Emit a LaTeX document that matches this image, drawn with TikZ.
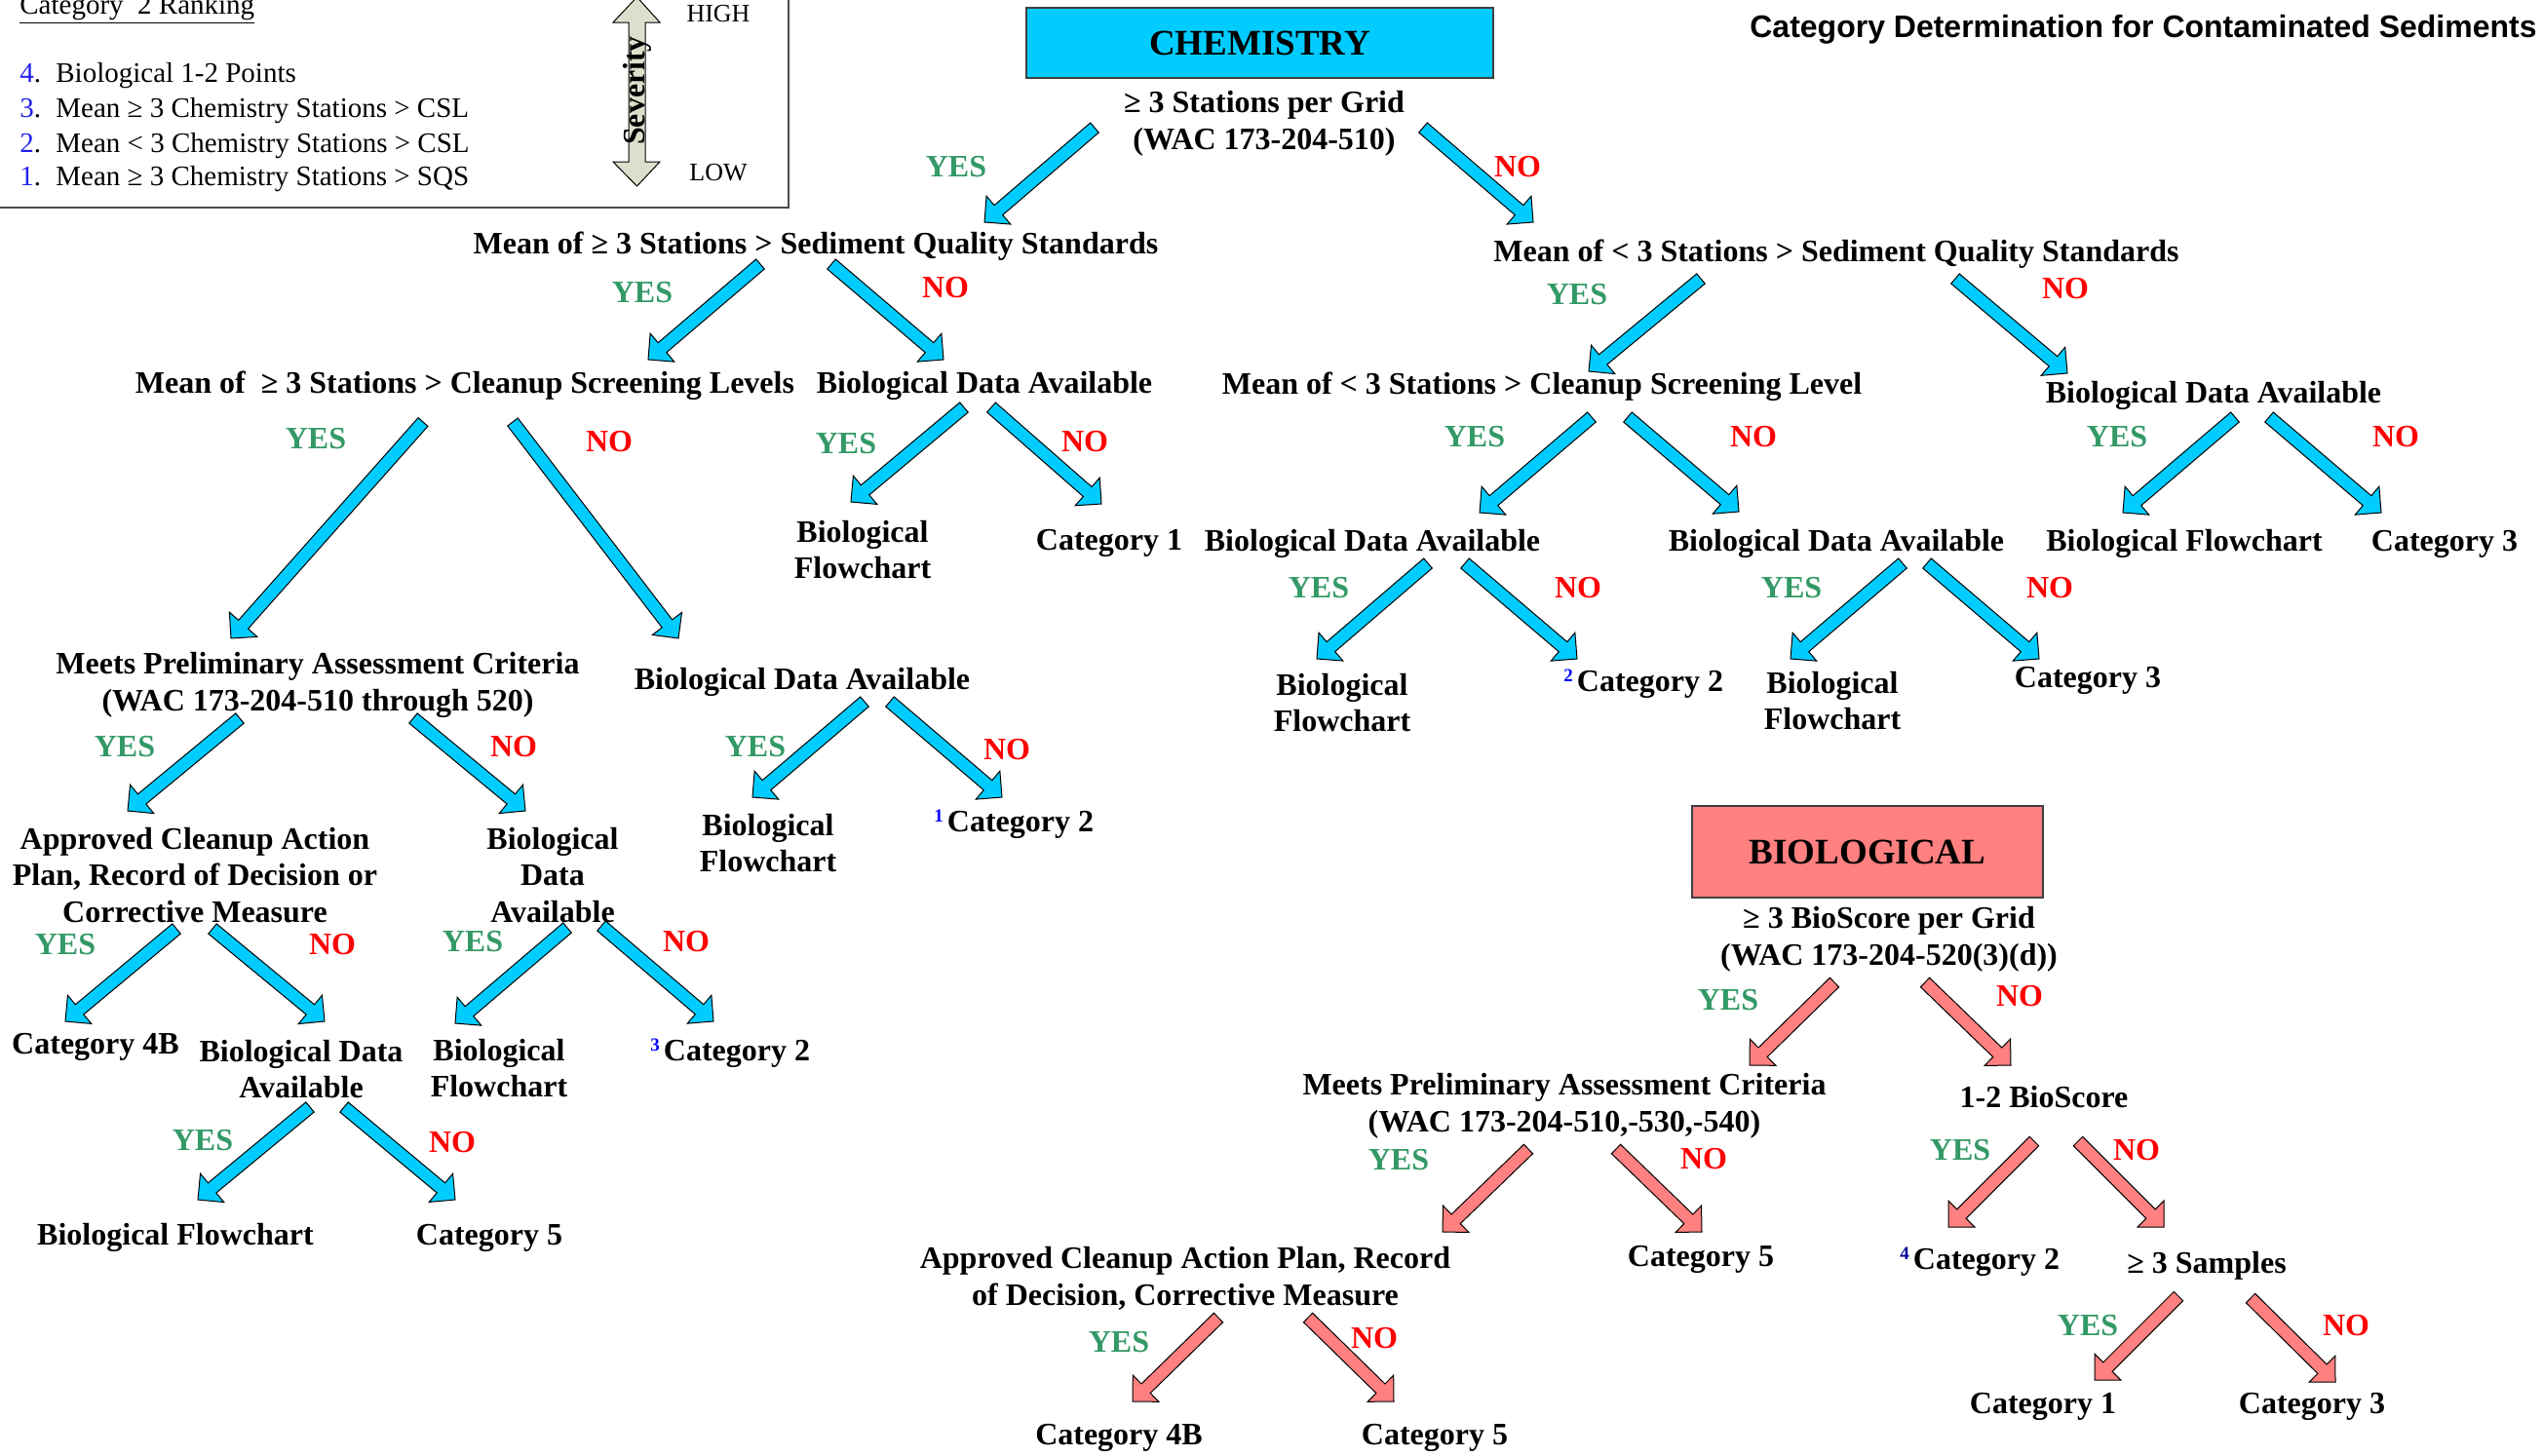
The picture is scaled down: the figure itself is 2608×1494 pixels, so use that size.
\documentclass[tikz,border=0pt]{standalone}
\usepackage{fontspec}
\setmainfont{Liberation Serif}
\newfontfamily\titlefont{Liberation Sans}
\usetikzlibrary{calc}
\definecolor{chemcyan}{HTML}{00CCFF}
\definecolor{biored}{HTML}{FF8080}
\definecolor{yesgreen}{HTML}{339966}
\definecolor{nored}{HTML}{FF0000}
\definecolor{supblue}{HTML}{0000FF}
\definecolor{supnavy}{HTML}{000099}
\definecolor{legblue}{HTML}{2222EE}
\definecolor{sevfill}{HTML}{DDDFCC}
\newcommand\supnum[2][supblue]{\textcolor{#1}{\raisebox{5pt}{\fontsize{9.5}{10}\selectfont #2}}\hspace{2pt}}
\newcommand\blockarrow[4]{%
  \coordinate (#1-t) at #2;
  \coordinate (#1-h) at #3;
  \coordinate (#1-b) at ($(#1-h)!9.5pt!(#1-t)$);
  \draw[arrowline, fill=#4]
    ($(#1-t)!3.3pt!90:(#1-h)$) -- ($(#1-b)!3.3pt!90:(#1-h)$) -- ($(#1-b)!9.5pt!90:(#1-h)$)
    -- (#1-h) -- ($(#1-b)!9.5pt!-90:(#1-h)$) -- ($(#1-b)!3.3pt!-90:(#1-h)$)
    -- ($(#1-t)!3.3pt!-90:(#1-h)$) -- cycle;
}
\tikzset{
  txt/.style={font=\fontsize{16}{18.75}\selectfont\bfseries, align=center, inner sep=0pt, yshift=-1.5pt},
  yes/.style={font=\fontsize{16}{18.75}\selectfont\bfseries, text=yesgreen, inner sep=0pt, yshift=-0.75pt},
  no/.style={font=\fontsize{16}{18.75}\selectfont\bfseries, text=nored, inner sep=0pt, yshift=-0.75pt},
  leg/.style={font=\fontsize{14.5}{17}\selectfont, inner sep=0pt},
  legsmall/.style={font=\fontsize{13}{15}\selectfont, inner sep=0pt},
  arrowline/.style={draw=black, line width=0.5pt, line join=miter},
  chembox/.style={draw=black!75, line width=0.75pt, fill=chemcyan, minimum width=239.5pt, minimum height=36pt, inner sep=0pt, font=\fontsize{18.5}{22}\selectfont\bfseries},
  biobox/.style={draw=black!75, line width=0.75pt, fill=biored, minimum width=180pt, minimum height=47pt, inner sep=0pt, font=\fontsize{18.5}{22}\selectfont\bfseries},
}
\begin{document}
\begin{tikzpicture}[x=0.5pt, y=-0.5pt]
\useasboundingbox (0,0) rectangle (2608,1494);
\fill[white] (0,0) rectangle (2608,1494);

% ---------- legend ----------
\draw[black!70, line width=1pt] (-10,-10) rectangle (809,213);
\node[leg, anchor=base west] (lhead) at (20,14) {\underline{Category\ \ 2 Ranking}};
\node[leg, anchor=west] (li4) at (20,78) {\makebox[18.5pt][l]{\textcolor{legblue}{4}.}Biological 1-2 Points};
\node[leg, anchor=west] (li3) at (20,114) {\makebox[18.5pt][l]{\textcolor{legblue}{3}.}Mean ≥ 3 Chemistry Stations > CSL};
\node[leg, anchor=west] (li2) at (20,150) {\makebox[18.5pt][l]{\textcolor{legblue}{2}.}Mean < 3 Chemistry Stations > CSL};
\node[leg, anchor=west] (li1) at (20,184) {\makebox[18.5pt][l]{\textcolor{legblue}{1}.}Mean ≥ 3 Chemistry Stations > SQS};
\draw[arrowline, fill=sevfill] (653.5,-3) -- (677,23) -- (662,23) -- (662,166) -- (677,166) -- (653.5,191)
  -- (629,166) -- (645,166) -- (645,23) -- (629,23) -- cycle;
\node[rotate=90, font=\fontsize{16}{19}\selectfont\bfseries, inner sep=0pt] (sev) at (653.5,93) {Severity};
\node[legsmall] (high) at (737,14) {HIGH};
\node[legsmall] (low) at (737,177) {LOW};

% ---------- title ----------
\node[font=\titlefont\fontsize{16}{19}\selectfont\bfseries, anchor=east, inner sep=0pt] (title) at (2603,30) {Category Determination for Contaminated Sediments};

% ---------- chemistry ----------
\node[chembox] (chem) at (1292.5,44) {CHEMISTRY};
\node[txt] (q0) at (1297,124) {≥ 3 Stations per Grid\\(WAC 173-204-510)};
\blockarrow{a0y}{(1123,131)}{(1010,228)}{chemcyan}
\node[yes] (y0) at (981,170) {YES};
\blockarrow{a0n}{(1460,131)}{(1573,228)}{chemcyan}
\node[no] (n0) at (1557,170) {NO};

% left branch
\node[txt] (l1) at (837,250) {Mean of ≥ 3 Stations > Sediment Quality Standards};
\blockarrow{a1y}{(780,271)}{(665,369)}{chemcyan}
\node[yes] (y1) at (659,299) {YES};
\blockarrow{a1n}{(853,271)}{(968,369)}{chemcyan}
\node[no] (n1) at (970,294) {NO};

\node[txt] (l2a) at (477,393) {Mean of\ \ ≥ 3 Stations > Cleanup Screening Levels};
\node[txt] (l2b) at (1010,393) {Biological Data Available};
\blockarrow{a2ay}{(434,433)}{(237,655)}{chemcyan}
\node[yes] (y2a) at (324,449) {YES};
\blockarrow{a2an}{(526,433)}{(696,655)}{chemcyan}
\node[no] (n2a) at (625,452) {NO};
\blockarrow{a2by}{(989,418)}{(873,515)}{chemcyan}
\node[yes] (y2b) at (868,454) {YES};
\blockarrow{a2bn}{(1017,418)}{(1130,517)}{chemcyan}
\node[no] (n2b) at (1113,452) {NO};
\node[txt] (l2b1) at (885,561) {Biological\\Flowchart};
\node[txt] (l2b2) at (1138,554) {Category 1};

\node[txt] (l3a) at (326,700) {Meets Preliminary Assessment Criteria\\(WAC 173-204-510 through 520)};
\node[txt] (l3b) at (823,697) {Biological Data Available};
\blockarrow{a3ay}{(246,737)}{(131,832)}{chemcyan}
\node[yes] (y3a) at (128,765) {YES};
\blockarrow{a3an}{(424,737)}{(539,832)}{chemcyan}
\node[no] (n3a) at (527,765) {NO};
\blockarrow{a3by}{(887,720)}{(772,818)}{chemcyan}
\node[yes] (y3b) at (775,765) {YES};
\blockarrow{a3bn}{(913,720)}{(1028,818)}{chemcyan}
\node[no] (n3b) at (1033,768) {NO};
\node[txt] (l3b1) at (788,862) {Biological\\Flowchart};
\node[txt, anchor=west] (l3b2) at (958,843) {\supnum{1}Category 2};

\node[txt] (l4a) at (200,895) {Approved Cleanup Action\\Plan, Record of Decision or\\Corrective Measure};
\node[txt] (l4b) at (567,895) {Biological\\Data\\Available};
\blockarrow{a4ay}{(181,953)}{(67,1048)}{chemcyan}
\node[yes] (y4a) at (67,968) {YES};
\blockarrow{a4an}{(218,953)}{(333,1048)}{chemcyan}
\node[no] (n4a) at (341,968) {NO};
\blockarrow{a4by}{(582,952)}{(467,1050)}{chemcyan}
\node[yes] (y4b) at (485,965) {YES};
\blockarrow{a4bn}{(617,950)}{(732,1048)}{chemcyan}
\node[no] (n4b) at (704,965) {NO};
\node[txt] (l4a1) at (98,1071) {Category 4B};
\node[txt] (l4a2) at (309,1094) {Biological Data\\Available};
\node[txt] (l4b1) at (512,1093) {Biological\\Flowchart};
\node[txt, anchor=west] (l4b2) at (667,1078) {\supnum{3}Category 2};

\blockarrow{a5y}{(318,1136)}{(203,1231)}{chemcyan}
\node[yes] (y5) at (208,1169) {YES};
\blockarrow{a5n}{(353,1136)}{(467,1231)}{chemcyan}
\node[no] (n5) at (464,1171) {NO};
\node[txt] (l5a) at (180,1267) {Biological Flowchart};
\node[txt] (l5b) at (502,1267) {Category 5};

% right branch
\node[txt] (r1) at (1884,258) {Mean of < 3 Stations > Sediment Quality Standards};
\blockarrow{r1y}{(1745,286)}{(1630,381)}{chemcyan}
\node[yes] (yr1) at (1618,301) {YES};
\blockarrow{r1n}{(2006,286)}{(2121,383)}{chemcyan}
\node[no] (nr1) at (2119,295) {NO};

\node[txt] (r2a) at (1582,394) {Mean of < 3 Stations > Cleanup Screening Level};
\node[txt] (r2b) at (2271,403) {Biological Data Available};
\blockarrow{r2ay}{(1633,428)}{(1518,526)}{chemcyan}
\node[yes] (yr2a) at (1513,447) {YES};
\blockarrow{r2an}{(1670,428)}{(1784,525)}{chemcyan}
\node[no] (nr2a) at (1799,447) {NO};
\blockarrow{r2by}{(2293,428)}{(2178,526)}{chemcyan}
\node[yes] (yr2b) at (2172,447) {YES};
\blockarrow{r2bn}{(2328,428)}{(2443,526)}{chemcyan}
\node[no] (nr2b) at (2458,447) {NO};
\node[txt] (r2b1) at (2241,555) {Biological Flowchart};
\node[txt] (r2b2) at (2508,555) {Category 3};

\node[txt] (r3a) at (1408,555) {Biological Data Available};
\node[txt] (r3b) at (1884,555) {Biological Data Available};
\blockarrow{r3ay}{(1465,578)}{(1351,676)}{chemcyan}
\node[yes] (yr3a) at (1353,602) {YES};
\blockarrow{r3an}{(1503,578)}{(1618,676)}{chemcyan}
\node[no] (nr3a) at (1619,602) {NO};
\blockarrow{r3by}{(1952,578)}{(1837,676)}{chemcyan}
\node[yes] (yr3b) at (1838,602) {YES};
\blockarrow{r3bn}{(1977,578)}{(2092,676)}{chemcyan}
\node[no] (nr3b) at (2103,602) {NO};
\node[txt] (r3a1) at (1377,718) {Biological\\Flowchart};
\node[txt, anchor=west] (r3a2) at (1604,699) {\supnum{2}Category 2};
\node[txt] (r3b1) at (1880,716) {Biological\\Flowchart};
\node[txt] (r3b2) at (2142,695) {Category 3};

% ---------- biological ----------
\node[biobox] (bio) at (1916,874) {BIOLOGICAL};
\node[txt] (b0) at (1938,961) {≥ 3 BioScore per Grid\\(WAC 173-204-520(3)(d))};
\blockarrow{b0y}{(1882,1008)}{(1795,1093)}{biored}
\node[yes] (yb0) at (1773,1025) {YES};
\blockarrow{b0n}{(1975,1008)}{(2063,1093)}{biored}
\node[no] (nb0) at (2072,1021) {NO};

\node[txt] (b1a) at (1605,1132) {Meets Preliminary Assessment Criteria\\(WAC 173-204-510,-530,-540)};
\node[txt] (b1b) at (2097,1123) {1-2 BioScore};
\blockarrow{b1ay}{(1568,1179)}{(1480,1264)}{biored}
\node[yes] (yb1a) at (1435,1189) {YES};
\blockarrow{b1an}{(1658,1179)}{(1746,1264)}{biored}
\node[no] (nb1a) at (1748,1188) {NO};
\blockarrow{b1by}{(2087,1171)}{(1999,1259)}{biored}
\node[yes] (yb1b) at (2011,1179) {YES};
\blockarrow{b1bn}{(2132,1171)}{(2220,1259)}{biored}
\node[no] (nb1b) at (2192,1179) {NO};

\node[txt] (b2a) at (1216,1309) {Approved Cleanup Action Plan, Record\\of Decision, Corrective Measure};
\node[txt] (b2b) at (1745,1289) {Category 5};
\node[txt, anchor=west] (b2c) at (1949,1292) {\supnum[supnavy]{4}Category 2};
\node[txt] (b2d) at (2264,1296) {≥ 3 Samples};
\blockarrow{b2ay}{(1250,1352)}{(1162,1438)}{biored}
\node[yes] (yb2a) at (1148,1376) {YES};
\blockarrow{b2an}{(1342,1352)}{(1430,1438)}{biored}
\node[no] (nb2a) at (1410,1372) {NO};
\blockarrow{b2dy}{(2235,1330)}{(2149,1416)}{biored}
\node[yes] (yb2d) at (2142,1359) {YES};
\blockarrow{b2dn}{(2309,1332)}{(2396,1418)}{biored}
\node[no] (nb2d) at (2407,1359) {NO};

\node[txt] (b3a) at (1148,1472) {Category 4B};
\node[txt] (b3b) at (1472,1472) {Category 5};
\node[txt] (b3c) at (2096,1440) {Category 1};
\node[txt] (b3d) at (2372,1440) {Category 3};
\end{tikzpicture}
\end{document}
